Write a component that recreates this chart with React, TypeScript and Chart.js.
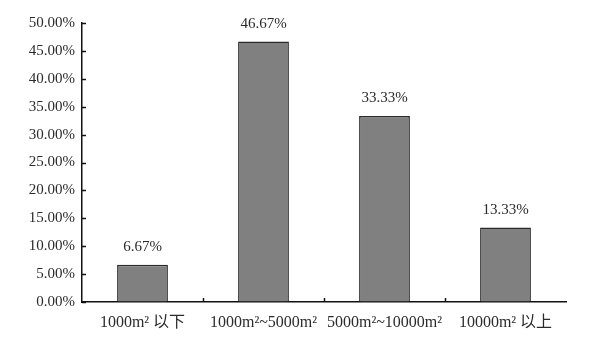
import React, { useEffect, useRef } from "react";
import { Chart, registerables } from "chart.js";

Chart.register(...registerables);

const categories = ["1000m² 以下", "1000m²~5000m²", "5000m²~10000m²", "10000m² 以上"];
const values = [6.67, 46.67, 33.33, 13.33];
const valueLabels = ["6.67%", "46.67%", "33.33%", "13.33%"];
const yTicks = [0, 5, 10, 15, 20, 25, 30, 35, 40, 45, 50];

const FONT = "'Liberation Serif', 'Times New Roman', 'Noto Sans CJK SC', serif";

const extrasPlugin = {
  id: "extras",
  afterDatasetsDraw(chart: any) {
    const ctx = chart.ctx;
    const x = chart.scales.x;
    const y = chart.scales.y;
    const area = chart.chartArea;
    ctx.save();
    ctx.strokeStyle = "#111";
    ctx.lineWidth = 1.5;
    // inward y ticks
    yTicks.forEach((v) => {
      const py = Math.round(y.getPixelForValue(v)) + 0.5;
      ctx.beginPath();
      ctx.moveTo(area.left, py);
      ctx.lineTo(area.left + 4, py);
      ctx.stroke();
    });
    // inward x ticks at category boundaries
    for (let i = 1; i < categories.length; i++) {
      const px = Math.round((x.getPixelForValue(i - 1) + x.getPixelForValue(i)) / 2) + 0.5;
      ctx.beginPath();
      ctx.moveTo(px, area.bottom);
      ctx.lineTo(px, area.bottom - 4);
      ctx.stroke();
    }
    // value labels
    const meta = chart.getDatasetMeta(0);
    ctx.fillStyle = "#2b2b2b";
    ctx.font = `15px ${FONT}`;
    ctx.textAlign = "center";
    ctx.textBaseline = "bottom";
    meta.data.forEach((bar: any, i: number) => {
      ctx.fillText(valueLabels[i], bar.x, bar.y - 10);
    });
    ctx.restore();
  },
};

export default function App() {
  const ref = useRef<HTMLCanvasElement | null>(null);
  useEffect(() => {
    if (!ref.current) return;
    const chart = new Chart(ref.current, {
      type: "bar",
      data: {
        labels: categories,
        datasets: [
          {
            data: values,
            backgroundColor: "#808080",
            borderColor: "#2a2a2a",
            borderWidth: 1.5,
            categoryPercentage: 1,
            barPercentage: 0.42,
          },
        ],
      },
      options: {
        responsive: false,
        animation: false,
        layout: { padding: { top: 23, right: 34, left: 0, bottom: 0 } },
        plugins: {
          legend: { display: false },
          tooltip: { enabled: false },
        },
        scales: {
          x: {
            grid: { display: true, color: "rgba(0,0,0,0)", drawTicks: false },
            border: { display: true, color: "#111", width: 1.5 },
            ticks: {
              color: "#2b2b2b",
              font: { family: FONT, size: 16 },
              padding: 11,
              maxRotation: 0,
              autoSkip: false,
            },
            afterFit(axis: any) {
              axis.height = 42;
            },
          },
          y: {
            min: 0,
            max: 50,
            grid: { display: true, color: "rgba(0,0,0,0)", drawTicks: false },
            border: { display: true, color: "#111", width: 1.5 },
            ticks: {
              stepSize: 5,
              color: "#2b2b2b",
              font: { family: FONT, size: 15 },
              padding: 7,
              callback: (v: any) => Number(v).toFixed(2) + "%",
            },
            afterFit(axis: any) {
              axis.width = 82;
            },
          },
        },
      },
      plugins: [extrasPlugin],
    });
    return () => chart.destroy();
  }, []);
  return (
    <div style={{ position: "absolute", left: 0, top: 0, width: 600, height: 344, background: "#fff" }}>
      <canvas ref={ref} width={600} height={344} />
    </div>
  );
}
